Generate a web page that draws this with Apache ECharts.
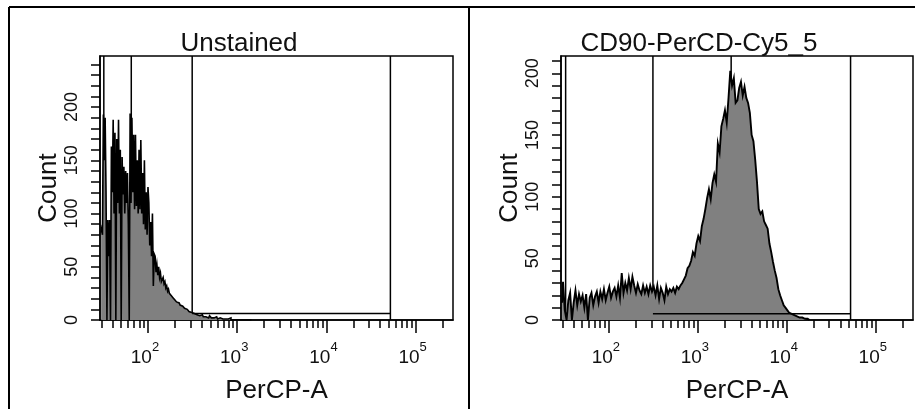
<!DOCTYPE html>
<html>
<head>
<meta charset="utf-8">
<script src="https://cdn.jsdelivr.net/npm/echarts@6/dist/echarts.min.js"></script>
<style>
  html, body { margin: 0; padding: 0; background: #fff; }
  #chart { width: 915px; height: 409px; }
</style>
</head>
<body>
<div id="chart"></div>
<script>
// Histogram channels: log-spaced bins along PerCP-A
// (bin centre = 10^(BIN_LOG0 + i * step)); the unstained file uses finer channels.
const BIN_LOG0 = 1.475;
const BIN_STEP_UNSTAINED = 0.01;
const BIN_STEP_CD90 = 0.02;

// Axis range shared by both panels
const X_MIN = 29;
const X_MAX = 262144;
const DECADE_TICKS = [100, 1000, 10000, 100000];

// Panel titles
const PANEL_TITLES = ['Unstained', 'CD90-PerCD-Cy5_5'];

// Count per bin, unstained control
const unstainedCounts = [
  82, 85, 80, 193, 150, 190, 120, 0, 94, 60,
  94, 0, 163, 120, 188, 100, 176, 0, 170, 110,
  188, 100, 160, 0, 153, 118, 144, 100, 140, 110,
  138, 90, 0, 194, 110, 190, 120, 174, 104, 174,
  107, 150, 100, 160, 104, 169, 100, 138, 90, 150,
  85, 120, 80, 125, 110, 70, 92, 60, 100, 32,
  62, 60, 45, 52, 42, 50, 40, 44, 36, 38,
  40, 34, 36, 30, 32, 27, 29, 25, 26, 23,
  22, 21, 22, 19, 20, 17, 18, 16, 15, 14,
  15, 13, 12, 13, 11, 12, 10, 9, 10, 8,
  9, 7, 8, 7, 6, 7, 6, 5, 6, 5,
  4, 5, 4, 5, 4, 3, 4, 3, 4, 3,
  2, 3, 4, 3, 2, 3, 2, 3, 2, 3,
  2, 1, 2, 2, 1, 2, 1, 1, 2, 1,
  0, 1, 1, 0, 1, 2, 0, 1, 0, 1,
  0, 0, 1, 0, 0, 0, 1, 0, 0, 0,
  0, 1, 0, 0, 0, 0, 0, 0, 0, 0
];

// Count per bin, CD90-PerCP-Cy5.5 stained
const cd90Counts = [
  14, 31, 8, 0, 16, 22, 0, 14, 24, 12,
  21, 15, 20, 10, 21, 0, 18, 22, 12, 19,
  23, 14, 23, 17, 25, 16, 22, 27, 18, 23,
  26, 19, 28, 18, 38, 22, 30, 24, 34, 25,
  35, 28, 22, 29, 24, 21, 28, 22, 27, 21,
  28, 23, 27, 20, 28, 17, 26, 22, 16, 27,
  21, 25, 23, 26, 22, 27, 25, 28, 30, 33,
  36, 42, 44, 48, 55, 52, 62, 68, 64, 76,
  82, 90, 99, 106, 98, 111, 118, 112, 143, 136,
  157, 163, 170, 160, 180, 202, 190, 196, 176, 178,
  188, 193, 182, 189, 180, 176, 168, 150, 145, 130,
  112, 90, 86, 88, 80, 77, 74, 62, 55, 47,
  40, 34, 25, 20, 16, 12, 10, 8, 6, 5,
  4, 3, 3, 2, 1, 2, 1, 0, 1, 0
];

// Y-axis tops
const Y_MAX = [248, 214];
const Y_LABELS = [0, 50, 100, 150, 200];

// Gate boundaries (PerCP-A) drawn as vertical markers
const unstainedGates = [32, 65, 313, 52100];
const cd90Gates = [32.7, 313, 2370, 52100];
// Range-gate bar: [from, to] and its drawing height in counts
const gateBar = [313, 52100];
const gateBarLevel = [6, 5];

const FONT = '"Liberation Sans", Arial, sans-serif';

function histData(counts, step) {
  return counts.map((c, i) => [Math.pow(10, BIN_LOG0 + i * step), c]);
}

// Minor log ticks: 2..9 times each decade, inside the axis range
const minorTicks = [];
for (let d = 1; d <= 5; d++) {
  for (let k = 2; k <= 9; k++) {
    const v = k * Math.pow(10, d);
    if (v >= X_MIN && v <= X_MAX) minorTicks.push(v);
  }
}

function yTicks(max) {
  const t = [];
  for (let v = 0; v <= max; v += 10) t.push(v);
  return t;
}

const black = '#000';
const ink = '#111';

function xAxesFor(gridIndex) {
  return [
    {
      type: 'log', logBase: 10, gridIndex, min: X_MIN, max: X_MAX, position: 'bottom',
      axisLine: { show: true, onZero: false, lineStyle: { color: black, width: 1.5 } },
      axisTick: { show: true, customValues: minorTicks, length: 8, lineStyle: { color: black, width: 1.5 } },
      minorTick: { show: false },
      splitLine: { show: false },
      axisLabel: {
        customValues: DECADE_TICKS,
        margin: 21,
        formatter: v => '{b|10}{s|' + Math.round(Math.log10(v)) + '}',
        rich: {
          b: { fontFamily: FONT, fontSize: 19, color: ink, lineHeight: 26, verticalAlign: 'bottom' },
          s: { fontFamily: FONT, fontSize: 13, color: ink, lineHeight: 26, verticalAlign: 'top' }
        },
        padding: [0, 6, 0, 0]
      },
      name: 'PerCP-A', nameLocation: 'middle', nameGap: 58,
      nameTextStyle: { fontFamily: FONT, fontSize: 26, color: ink }
    },
    {
      type: 'log', logBase: 10, gridIndex, min: X_MIN, max: X_MAX, position: 'bottom',
      axisLine: { show: false },
      axisTick: { show: true, customValues: DECADE_TICKS, length: 13, lineStyle: { color: black, width: 1.5 } },
      axisLabel: { show: false },
      splitLine: { show: false }
    }
  ];
}

function yAxisFor(gridIndex) {
  return {
    type: 'value', gridIndex, min: 0, max: Y_MAX[gridIndex],
    axisLine: { show: true, lineStyle: { color: black, width: 1.5 } },
    axisTick: { show: true, customValues: yTicks(Y_MAX[gridIndex]), length: 9, lineStyle: { color: black, width: 1.5 } },
    axisLabel: { customValues: Y_LABELS, rotate: 90, margin: 19, fontFamily: FONT, fontSize: 18, color: ink },
    splitLine: { show: false },
    name: 'Count', nameLocation: 'middle', nameRotate: 90, nameGap: 38,
    nameTextStyle: { fontFamily: FONT, fontSize: 26, color: ink }
  };
}

function gateSeries(gates, idx) {
  return gates.map(g => ({
    type: 'line', xAxisIndex: idx * 2, yAxisIndex: idx, z: 2,
    data: [[g, 0], [g, Y_MAX[idx]]],
    symbol: 'none', silent: true,
    lineStyle: { color: black, width: 1.5 }
  }));
}

function histSeries(counts, step, idx, width) {
  return {
    type: 'line', xAxisIndex: idx * 2, yAxisIndex: idx, z: 3,
    data: histData(counts, step), step: 'middle', symbol: 'none',
    lineStyle: { color: black, width, join: 'miter' },
    areaStyle: { color: '#808080', opacity: 1 }
  };
}

function barSeries(idx) {
  return {
    type: 'line', xAxisIndex: idx * 2, yAxisIndex: idx, z: 4,
    data: [[gateBar[0], gateBarLevel[idx]], [gateBar[1], gateBarLevel[idx]]],
    symbol: 'none', silent: true,
    lineStyle: { color: black, width: 1.5 }
  };
}

const chart = echarts.init(document.getElementById('chart'), null, { renderer: 'canvas' });
chart.setOption({
  animation: false,
  backgroundColor: '#fff',
  textStyle: { fontFamily: FONT },
  title: [
    { text: PANEL_TITLES[0], left: 234, top: 26, textAlign: 'center',
      textStyle: { fontFamily: FONT, fontSize: 26, fontWeight: 'normal', color: ink } },
    { text: PANEL_TITLES[1], left: 694, top: 26, textAlign: 'center',
      textStyle: { fontFamily: FONT, fontSize: 26, fontWeight: 'normal', color: ink } }
  ],
  grid: [
    { left: 100, top: 56, width: 353, height: 265, show: true, borderColor: black, borderWidth: 1.5, backgroundColor: 'transparent' },
    { left: 561, top: 56, width: 352, height: 265, show: true, borderColor: black, borderWidth: 1.5, backgroundColor: 'transparent' }
  ],
  xAxis: [...xAxesFor(0), ...xAxesFor(1)],
  yAxis: [yAxisFor(0), yAxisFor(1)],
  series: [
    ...gateSeries(unstainedGates, 0),
    histSeries(unstainedCounts, BIN_STEP_UNSTAINED, 0, 1.6),
    barSeries(0),
    ...gateSeries(cd90Gates, 1),
    histSeries(cd90Counts, BIN_STEP_CD90, 1, 1.9),
    barSeries(1)
  ],
  graphic: [
    { type: 'line', shape: { x1: 9, y1: 7, x2: 915, y2: 7 }, style: { stroke: black, lineWidth: 2 } },
    { type: 'line', shape: { x1: 9, y1: 7, x2: 9, y2: 409 }, style: { stroke: black, lineWidth: 2 } },
    { type: 'line', shape: { x1: 469, y1: 7, x2: 469, y2: 409 }, style: { stroke: black, lineWidth: 2 } }
  ]
});
</script>
</body>
</html>
